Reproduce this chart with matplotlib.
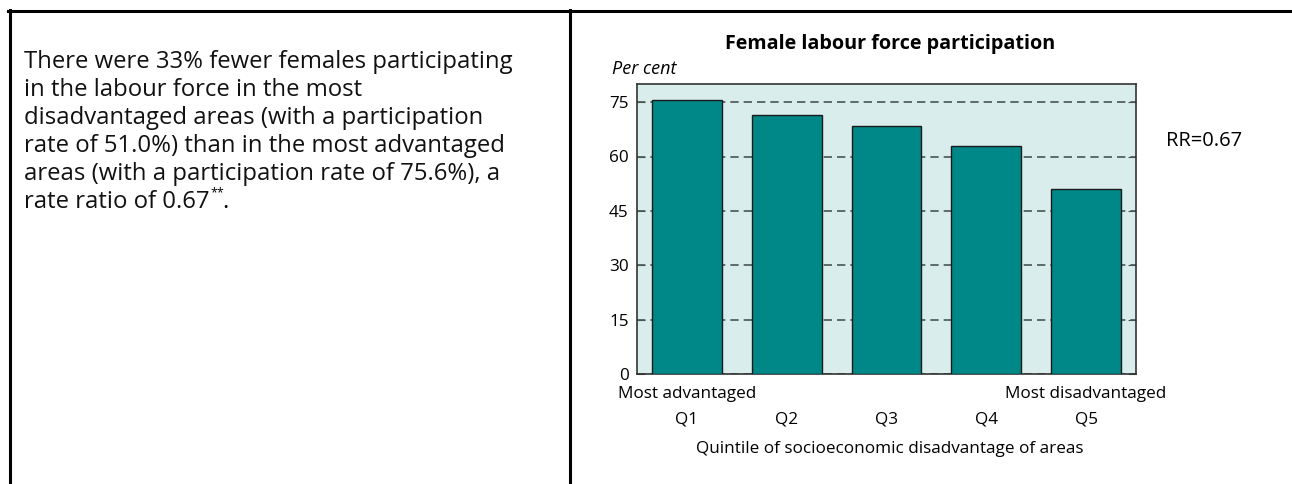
import matplotlib
matplotlib.use("Agg")
import matplotlib.pyplot as plt
from matplotlib.lines import Line2D
from matplotlib.transforms import blended_transform_factory

quintiles = ["Q1", "Q2", "Q3", "Q4", "Q5"]
participation = [75.6, 71.5, 68.3, 62.8, 51.0]
yticks = [0, 15, 30, 45, 60, 75]
title = "Female labour force participation"
ylabel = "Per cent"
xlabel = "Quintile of socioeconomic disadvantage of areas"
end_labels = ["Most advantaged", "Most disadvantaged"]
rr_text = "RR=0.67"
body_lines = [
    "There were 33% fewer females participating",
    "in the labour force in the most",
    "disadvantaged areas (with a participation",
    "rate of 51.0%) than in the most advantaged",
    "areas (with a participation rate of 75.6%), a",
]
last_line = "rate ratio of 0.67"

W, H = 1292, 484
plt.rcParams["font.family"] = ["Open Sans", "DejaVu Sans"]
fig = plt.figure(figsize=(W / 100, H / 100), dpi=100)

def fx(x):
    return x / W

def fy(y):
    return 1 - y / H

# table-like borders
lw = 2.2
fig.add_artist(Line2D([fx(8), 1.0], [fy(11), fy(11)], color="black", lw=lw))
fig.add_artist(Line2D([fx(9.5), fx(9.5)], [fy(10), 0], color="black", lw=lw))
fig.add_artist(Line2D([fx(570), fx(570)], [fy(10), 0], color="black", lw=lw))

# body text
body_fs = 17.2
ys = [62, 90, 118, 146, 174]
for line, y in zip(body_lines, ys):
    fig.text(fx(24), fy(y), line, fontsize=body_fs, va="center", ha="left",
             color="#111111")
t = fig.text(fx(24), fy(202), last_line, fontsize=body_fs, va="center",
             ha="left", color="#111111")
renderer = fig.canvas.get_renderer()
bb = t.get_window_extent(renderer=renderer)
end_x = bb.x1 / W
fig.text(end_x + fx(1), fy(193), "**", fontsize=9, va="center", ha="left")
fig.text(end_x + fx(13), fy(202), ".", fontsize=body_fs, va="center", ha="left")

# chart
ax = fig.add_axes([fx(637), fy(374), (1136 - 637) / W, (374 - 84) / H])
ax.set_facecolor("#d9eded")
x = list(range(len(quintiles)))
ax.bar(x, participation, width=0.7, color="#008888", edgecolor="#1a1a1a",
       linewidth=1.0, zorder=3)
ax.set_xlim(-0.5, 4.5)
ax.set_ylim(0, 80)
ax.set_yticks(yticks)
ax.set_yticklabels([str(v) for v in yticks], fontsize=12.3)
ax.yaxis.grid(True, linestyle=(0, (5, 3)), color="#4a5555", lw=1.2, zorder=1)
ax.tick_params(axis="y", direction="in", length=6, color="#4a5555", pad=6,
               right=True)
ax.set_xticks(x)
ax.set_xticklabels(quintiles, fontsize=12.3)
ax.tick_params(axis="x", length=0, pad=27)
for s in ax.spines.values():
    s.set_color("#333333")
    s.set_linewidth(1.2)
ax.set_axisbelow(True)

tr = blended_transform_factory(ax.transData, fig.transFigure)
ax.text(x[0], fy(394), end_labels[0], transform=tr, ha="center", va="center",
        fontsize=12.3)
ax.text(x[-1], fy(394), end_labels[1], transform=tr, ha="center", va="center",
        fontsize=12.3)

fig.text(fx(890), fy(449), xlabel, ha="center", va="center", fontsize=12.3)
fig.text(fx(890), fy(44), title, ha="center", va="center", fontsize=14.2,
         fontweight="bold")
fig.text(fx(612), fy(69), ylabel, ha="left", va="center", fontsize=13,
         style="italic")
fig.text(fx(1166), fy(141), rr_text, ha="left", va="center", fontsize=14.5)

fig.savefig("out.png", dpi=100)
